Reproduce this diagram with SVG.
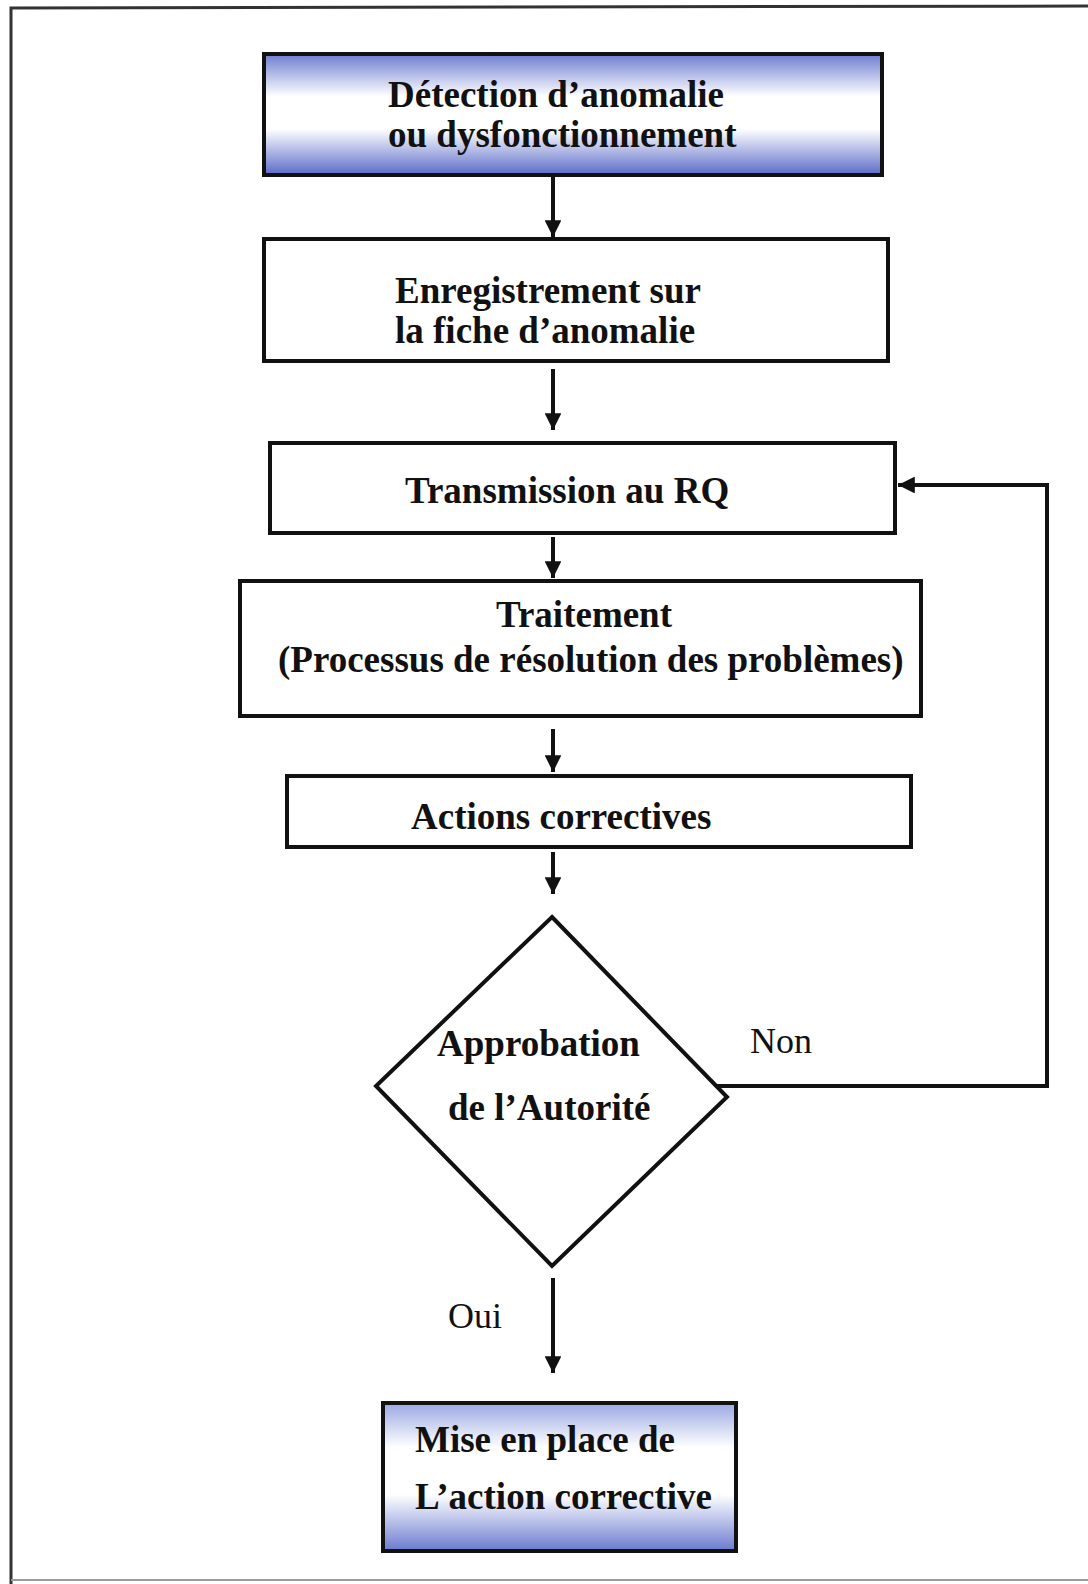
<svg xmlns="http://www.w3.org/2000/svg" width="1088" height="1584" viewBox="0 0 1088 1584">
  <style>
    .box { fill: #ffffff; stroke: #111111; stroke-width: 4; }
    .lbl { font-family: "Liberation Serif", "Times New Roman", serif; font-weight: bold; font-size: 37px; fill: #111111; }
    .tag { font-family: "Liberation Serif", "Times New Roman", serif; font-size: 36px; fill: #111111; }
    .link { fill: none; stroke: #111111; stroke-width: 4; }
  </style>
  <defs>
    <linearGradient id="blueBand" x1="0" y1="0" x2="0" y2="1">
      <stop offset="0" stop-color="#6d7dd0"/>
      <stop offset="0.35" stop-color="#ffffff"/>
      <stop offset="0.62" stop-color="#ffffff"/>
      <stop offset="1" stop-color="#5a6bc8"/>
    </linearGradient>
    <linearGradient id="blueBandSoft" x1="0" y1="0" x2="0" y2="1">
      <stop offset="0" stop-color="#9aa8e2"/>
      <stop offset="0.3" stop-color="#ffffff"/>
      <stop offset="0.62" stop-color="#ffffff"/>
      <stop offset="1" stop-color="#6a7acf"/>
    </linearGradient>
    <marker id="head" viewBox="0 0 10 10" refX="10" refY="5" markerWidth="4.2" markerHeight="4.2" markerUnits="strokeWidth" orient="auto">
      <path d="M0,0 L10,5 L0,10 Z" fill="#111111"/>
    </marker>
  </defs>

  <rect width="1088" height="1584" fill="#ffffff"/>
  <!-- page frame -->
  <path d="M11,1584 L11,8 L1088,6" fill="none" stroke="#333333" stroke-width="3"/>
  <path d="M11,1580 L1088,1580" fill="none" stroke="#9a9a9a" stroke-width="2"/>

  <!-- connectors -->
  <g id="connectors">
    <line class="link" x1="553" y1="177" x2="553" y2="237" marker-end="url(#head)"/>
    <line class="link" x1="553" y1="369" x2="553" y2="430" marker-end="url(#head)"/>
    <line class="link" x1="553" y1="537" x2="553" y2="578" marker-end="url(#head)"/>
    <line class="link" x1="553" y1="729" x2="553" y2="772" marker-end="url(#head)"/>
    <line class="link" x1="553" y1="852" x2="553" y2="894" marker-end="url(#head)"/>
    <line class="link" x1="553" y1="1278" x2="553" y2="1373" marker-end="url(#head)"/>
    <path class="link" d="M716,1086 L1047,1086 L1047,485 L898,485" marker-end="url(#head)"/>
    <text class="tag" x="750" y="1053">Non</text>
    <text class="tag" x="448" y="1328">Oui</text>
  </g>

  <g id="detection">
    <rect class="box" x="264" y="54" width="618" height="121" fill="url(#blueBand)" style="fill:url(#blueBand)"/>
    <text class="lbl" x="388" y="107">Détection d’anomalie</text>
    <text class="lbl" x="388" y="147">ou dysfonctionnement</text>
  </g>

  <g id="enregistrement">
    <rect class="box" x="264" y="239" width="624" height="122"/>
    <text class="lbl" x="395" y="303">Enregistrement sur</text>
    <text class="lbl" x="395" y="343">la fiche d’anomalie</text>
  </g>

  <g id="transmission">
    <rect class="box" x="270" y="443" width="625" height="90"/>
    <text class="lbl" x="405" y="503">Transmission au RQ</text>
  </g>

  <g id="traitement">
    <rect class="box" x="240" y="581" width="681" height="135"/>
    <text class="lbl" x="496" y="627">Traitement</text>
    <text class="lbl" x="278" y="672">(Processus de résolution des problèmes)</text>
  </g>

  <g id="actions">
    <rect class="box" x="287" y="776" width="624" height="71"/>
    <text class="lbl" x="411" y="829">Actions correctives</text>
  </g>

  <g id="approbation">
    <polygon class="box" points="552,917 727,1097 552,1266 376,1086"/>
    <text class="lbl" x="437" y="1056">Approbation</text>
    <text class="lbl" x="448" y="1120">de l’Autorité</text>
  </g>

  <g id="mise-en-place">
    <rect class="box" x="383" y="1403" width="353" height="148" style="fill:url(#blueBandSoft)"/>
    <text class="lbl" x="415" y="1452">Mise en place de</text>
    <text class="lbl" x="415" y="1509">L’action corrective</text>
  </g>
</svg>
